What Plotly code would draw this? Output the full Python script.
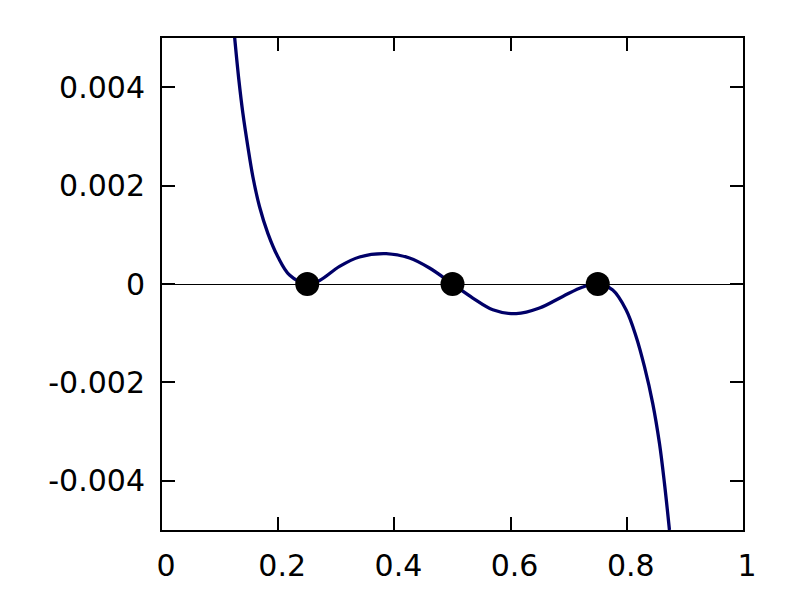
import plotly.graph_objects as go

# --- Data ---
curve_x = [0.1249, 0.1323, 0.1392, 0.1478, 0.1564, 0.1679, 0.1822, 0.1994, 0.2195,
           0.25, 0.2712, 0.3056, 0.3400, 0.3859, 0.4260, 0.4604, 0.5,
           0.5349, 0.5693, 0.6096, 0.6497, 0.6898, 0.7242, 0.75,
           0.7758, 0.7989, 0.8161, 0.8304, 0.8446, 0.8562, 0.8648, 0.8734]
curve_y = [0.005026, 0.004146, 0.003470, 0.002791, 0.002181, 0.001571, 0.001030, 0.000555, 0.000183,
           0.0, 0.0000732, 0.000358, 0.000549, 0.000616, 0.000528, 0.000325, 0.0,
           -0.000285, -0.000522, -0.000603, -0.000488, -0.000252, -0.000061, 0.0,
           -0.000122, -0.000528, -0.001071, -0.001681, -0.002425, -0.003238, -0.004051, -0.005]

root_x = [0.25, 0.5, 0.75]
root_y = [0.0, 0.0, 0.0]

x_ticks = [0, 0.2, 0.4, 0.6, 0.8, 1]
x_labels = ["0", "0.2", "0.4", "0.6", "0.8", "1"]
y_ticks = [-0.004, -0.002, 0, 0.002, 0.004]
y_labels = ["-0.004", "-0.002", "0", "0.002", "0.004"]

FONT = "DejaVu Sans"

fig = go.Figure()
fig.add_trace(go.Scatter(
    x=curve_x, y=curve_y, mode="lines",
    line=dict(color="#000068", width=3.3, shape="spline", smoothing=1.0),
    hoverinfo="skip",
))
fig.add_trace(go.Scatter(
    x=root_x, y=root_y, mode="markers",
    marker=dict(color="black", size=24),
    hoverinfo="skip",
))

axis_common = dict(
    showgrid=False,
    showline=True, linecolor="black", linewidth=2,
    mirror="allticks",
    ticks="inside", ticklen=13, tickwidth=1.5, tickcolor="black",
    tickfont=dict(family=FONT, size=30, color="black"),
)
fig.update_xaxes(
    range=[0, 1], tickvals=x_ticks, ticktext=x_labels,
    zeroline=False, ticklabelstandoff=8, ticklabelshift=4, **axis_common,
)
fig.update_yaxes(
    range=[-0.005, 0.005], tickvals=y_ticks, ticktext=y_labels,
    zeroline=True, zerolinecolor="black", zerolinewidth=1,
    ticklabelstandoff=9, **axis_common,
)
fig.update_layout(
    width=800, height=600,
    margin=dict(l=154, r=65, t=30, b=78),
    paper_bgcolor="white", plot_bgcolor="white",
    showlegend=False,
    font=dict(family=FONT),
)
fig.write_html("out.html")
